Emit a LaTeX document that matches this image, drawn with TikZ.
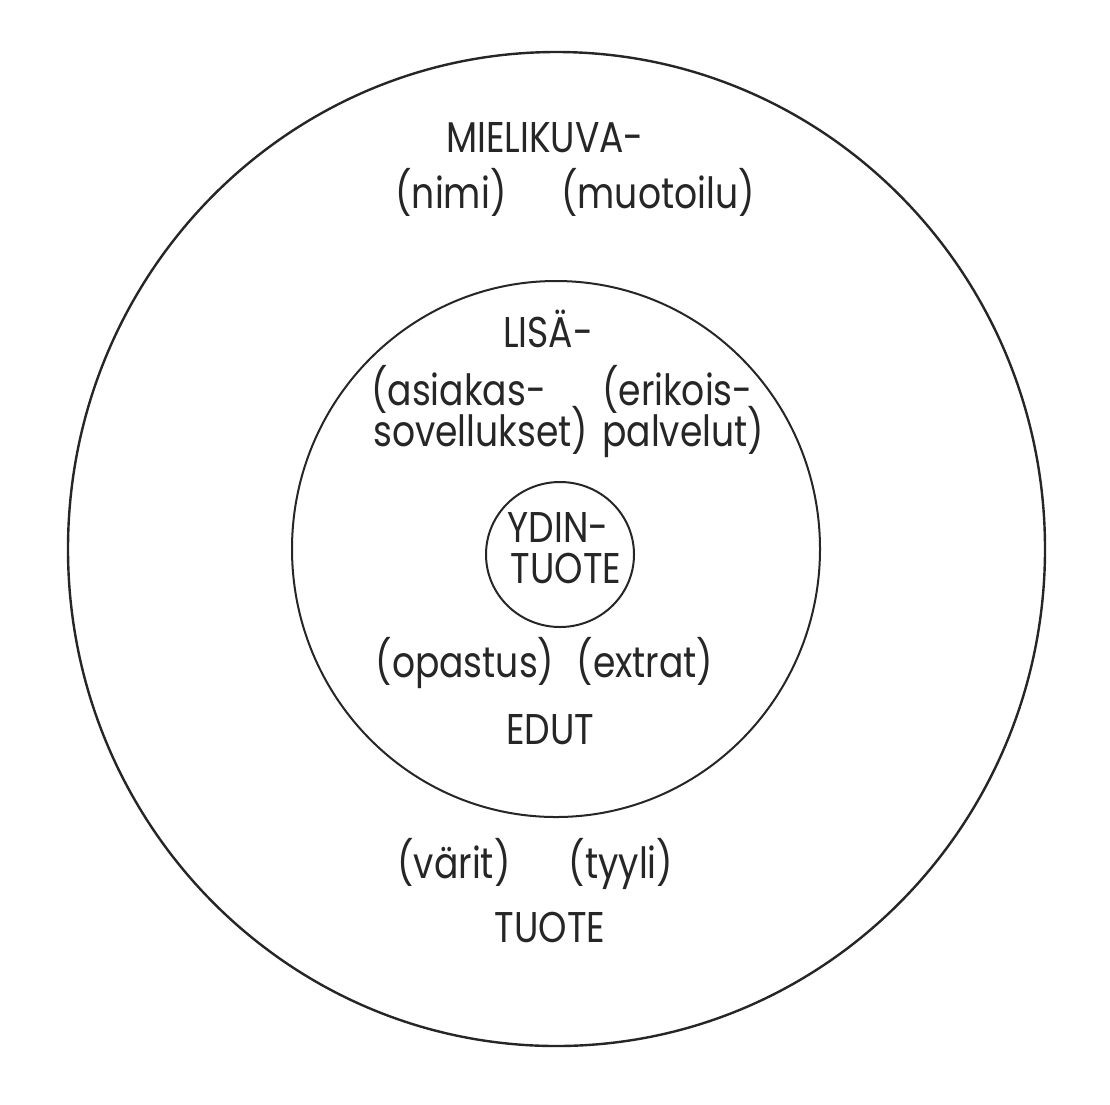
\documentclass[tikz,border=0pt]{standalone}
\usepackage{fontspec}
\setmainfont[FakeStretch=0.84]{Poppins}
\usetikzlibrary{shapes.geometric}
\definecolor{ink}{gray}{0.15}
\tikzset{
  ring/.style={draw=ink, ellipse, inner sep=0pt, line width=#1},
  lbl/.style={inner sep=0pt, anchor=base, text=ink, font=\fontsize{43}{47}\selectfont},
  lbll/.style={lbl, anchor=base west}
}
\begin{document}
\begin{tikzpicture}[x=1pt,y=-1pt]
\useasboundingbox (0,0) rectangle (1110,1104);
\fill[white] (0,0) rectangle (1110,1104);
\node[ring=2.4pt, minimum width=977pt, minimum height=994pt] (outer) at (556.5,549) {};
\node[ring=2pt, minimum width=528pt, minimum height=536pt] (middle) at (556,549) {};
\node[ring=2pt, minimum width=148pt, minimum height=145pt] (inner) at (560,554.5) {};
% outer ring
\node[lbl] (mielikuva) at (545,152) {MIELIKUVA-};
\node[lbl] (nimi) at (451,208) {(nimi)};
\node[lbl] (muotoilu) at (658,208) {(muotoilu)};
\node[lbl] (varit) at (454,878) {(värit)};
\node[lbl] (tyyli) at (621,878) {(tyyli)};
\node[lbl] (tuote) at (550,942) {TUOTE};
% middle ring
\node[lbl] (lisa) at (548,347) {LISÄ-};
\node[lbll] (asiakas) at (371,405) {(asiakas-};
\node[lbll] (sovellukset) at (373,446) {sovellukset)};
\node[lbll] (erikois) at (602,405) {(erikois-};
\node[lbll] (palvelut) at (602,446) {palvelut)};
\node[lbl] (opastus) at (465,677) {(opastus)};
\node[lbl] (extrat) at (645,677) {(extrat)};
\node[lbl] (edut) at (550,744) {EDUT};
% core
\node[lbl] (ydin) at (558,542) {YDIN-};
\node[lbl] (ytuote) at (566,583) {TUOTE};
\end{tikzpicture}
\end{document}
